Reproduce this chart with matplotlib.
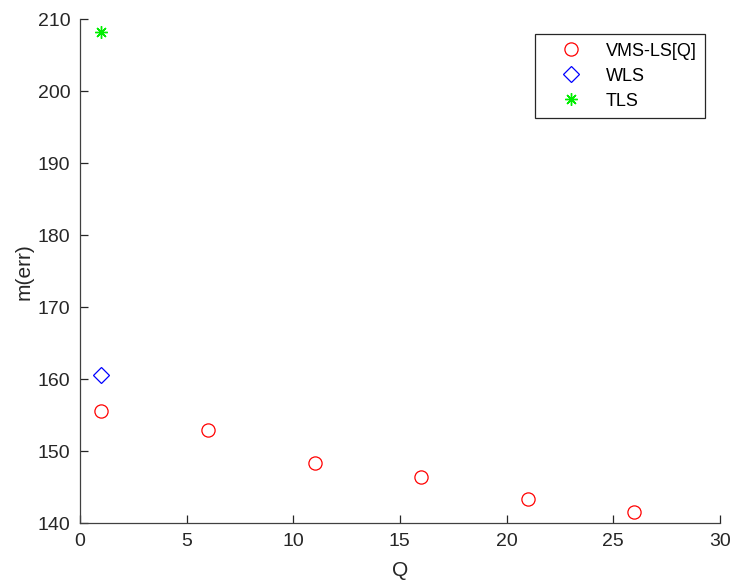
import matplotlib
matplotlib.use("Agg")
import matplotlib.pyplot as plt

plt.rcParams['font.family'] = ['Liberation Sans', 'DejaVu Sans']

q = [1, 6, 11, 16, 21, 26]
vms_err = [155.5, 152.9, 148.3, 146.4, 143.4, 141.5]
wls_q = [1]
wls_err = [160.6]
tls_q = [1]
tls_err = [208.2]

fig = plt.figure(figsize=(7.33, 5.81), dpi=100)
ax = fig.add_axes([0.109, 0.0998, 0.873, 0.867])

ax.plot(q, vms_err, 'o', mfc='none', mec='#ff0000', ms=9.5, mew=0.9, label='VMS-LS[Q]')
ax.plot(wls_q, wls_err, 'D', mfc='none', mec='#0000ff', ms=8, mew=0.9, label='WLS')
ax.plot(tls_q, tls_err, marker=(8, 2, 0), ls='none', color='#00ee00', ms=9, mew=1.0, label='TLS')

ax.set_xlim(0, 30)
ax.set_ylim(140, 210)
ax.set_xticks(range(0, 31, 5))
ax.set_yticks(range(140, 211, 10))
ax.spines['top'].set_visible(False)
ax.spines['right'].set_visible(False)
for s in ('left', 'bottom'):
    ax.spines[s].set_color('#404040')
    ax.spines[s].set_linewidth(0.9)
ax.tick_params(direction='in', length=6, width=0.9, labelsize=14, colors='#262626', pad=7)
ax.set_xlabel('Q', fontsize=15, color='#262626', labelpad=8)
ax.set_ylabel('m(err)', fontsize=15, color='#262626', labelpad=3)

leg = ax.legend(loc='upper right', bbox_to_anchor=(0.977, 0.970), borderaxespad=0,
                fontsize=13, fancybox=False, edgecolor='#262626', framealpha=1,
                handletextpad=0.4, borderpad=0.45, labelspacing=0.45, handlelength=3.1)
leg.get_frame().set_linewidth(0.9)

fig.savefig('out.png', dpi=100)
